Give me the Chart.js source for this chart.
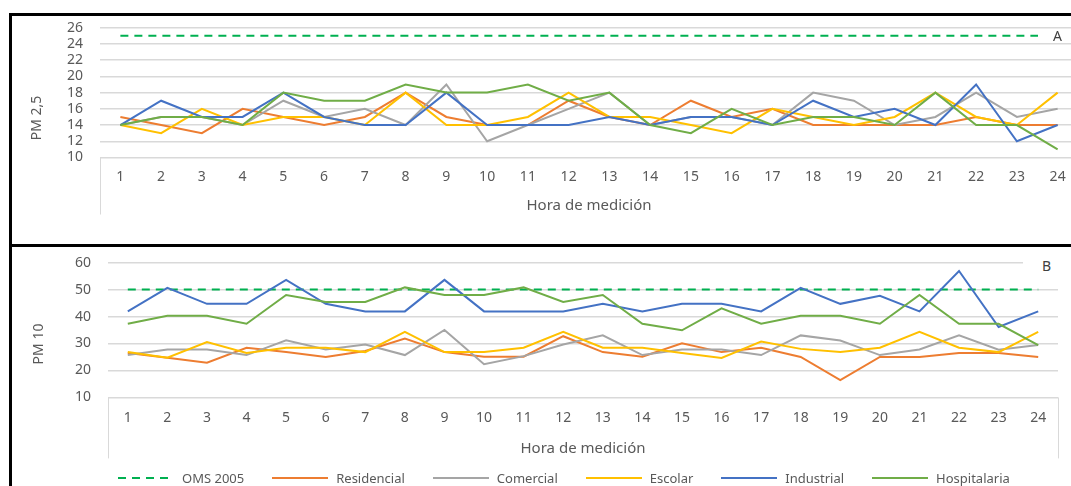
<!DOCTYPE html>
<html lang="es">
<head>
<meta charset="utf-8">
<title>PM 2,5 y PM 10 por hora de medición</title>
<script src="https://cdn.jsdelivr.net/npm/chart.js@4.4.1/dist/chart.umd.min.js"></script>
<style>
html, body { margin: 0; padding: 0; background: #fff; overflow: hidden; }
body { width: 1071px; height: 486px; position: relative; font-family: "Noto Sans", sans-serif; }
canvas { position: absolute; left: 0; }
#c25 { top: 0; }
#c10 { top: 237px; }
.frame { position: absolute; left: 9px; width: 1100px; border-top: 3px solid #000; border-left: 3px solid #000; }
#frameA { top: 13px; height: 230px; }
#frameB { top: 244px; height: 300px; }
.ytitle { position: absolute; transform: translate(-50%, -50%) rotate(-90deg); font-size: 14px; color: #595959; white-space: nowrap; }
.tag { position: absolute; background: #fff; font-size: 14px; color: #404040; }
#legend { position: absolute; left: 118px; top: 470px; height: 16px; display: flex; align-items: center; gap: 28px; font-size: 13px; color: #595959; white-space: nowrap; }
#legend .item { display: flex; align-items: center; }
#legend svg { margin-right: 8px; }
</style>
</head>
<body>

<canvas id="c25" width="1100" height="243"></canvas>
<canvas id="c10" width="1100" height="249"></canvas>

<div class="frame" id="frameA"></div>
<div class="frame" id="frameB"></div>

<div class="ytitle" style="left:35px; top:118px;">PM 2,5</div>
<div class="ytitle" style="left:37px; top:344px;">PM 10</div>

<div class="tag" style="left:1038px; top:29px; width:40px; height:13px; line-height:13px; padding-left:15px;">A</div>
<div class="tag" style="left:1023px; top:256px; width:40px; height:20px; line-height:20px; padding-left:19px;">B</div>

<div id="legend"></div>

<script>
// ============================
// DATOS
// ============================

const horas = ['1','2','3','4','5','6','7','8','9','10','11','12',
               '13','14','15','16','17','18','19','20','21','22','23','24'];

const nombres = ['OMS 2005', 'Residencial', 'Comercial', 'Escolar', 'Industrial', 'Hospitalaria'];

// PM 2,5
const oms25 = [25,25,25,25,25,25,25,25,25,25,25,25,25,25,25,25,25,25,25,25,25,25,25,25];
const res25 = [15,14,13,16,15,14,15,18,15,14,14,17,15,14,17,15,16,14,14,14,14,15,14,14];
const com25 = [14,15,15,14,17,15,16,14,19,12,14,16,18,14,15,15,14,18,17,14,15,18,15,16];
const esc25 = [14,13,16,14,15,15,14,18,14,14,15,18,15,15,14,13,16,15,14,15,18,15,14,18];
const ind25 = [14,17,15,15,18,15,14,14,18,14,14,14,15,14,15,15,14,17,15,16,14,19,12,14];
const hos25 = [14,15,15,14,18,17,17,19,18,18,19,17,18,14,13,16,14,15,15,14,18,14,14,11];

// PM 10
const oms10 = [50,50,50,50,50,50,50,50,50,50,50,50,50,50,50,50,50,50,50,50,50,50,50,50];
const res10 = [26.5,24.7,22.9,28.4,26.8,25.0,27.2,31.8,26.8,25.1,25.1,32.7,
               26.8,25.1,30.1,26.8,28.4,25.0,16.4,25.0,25.0,26.5,26.5,25.0];
const com10 = [25.7,27.8,27.8,25.7,31.2,27.8,29.6,25.7,35.0,22.3,25.3,29.6,
               33.0,25.7,27.8,27.8,25.7,33.0,31.1,25.7,27.8,33.0,27.7,29.4];
const esc10 = [26.8,24.7,30.5,26.5,28.4,28.4,26.8,34.3,26.8,26.8,28.4,34.3,
               28.4,28.4,26.5,24.6,30.7,28.0,26.8,28.4,34.3,28.4,26.8,34.3];
const ind10 = [41.9,50.6,44.7,44.7,53.6,44.7,41.9,41.9,53.6,41.9,41.9,41.9,
               44.7,41.9,44.7,44.7,41.9,50.6,44.7,47.7,41.9,56.9,36.1,41.9];
const hos10 = [37.3,40.3,40.3,37.3,48.0,45.4,45.4,50.8,48.0,48.0,50.8,45.4,
               48.0,37.3,34.9,43.0,37.3,40.3,40.3,37.3,48.0,37.3,37.3,29.4];

// ============================
// ESTILO
// ============================

const colores = ['#00B050', '#ED7D31', '#A5A5A5', '#FFC000', '#4472C4', '#70AD47'];
const trazos  = [[8, 6], [], [], [], [], []];
const gris = '#595959';

Chart.defaults.font.family = '"Noto Sans", sans-serif';

// lineas verticales en los bordes del eje de categorias
const edgeLines = {
    id: 'edgeLines',
    afterDraw(chart, args, opts) {
        const {ctx, chartArea} = chart;
        ctx.save();
        ctx.strokeStyle = opts.color;
        ctx.lineWidth = 1;
        [chartArea.left, chartArea.right].forEach(x => {
            const px = Math.round(x) + 0.5;
            ctx.beginPath();
            ctx.moveTo(px, chartArea.bottom);
            ctx.lineTo(px, chartArea.bottom + opts.length);
            ctx.stroke();
        });
        ctx.restore();
    }
};

function series(datos) {
    return datos.map((d, i) => ({
        label: nombres[i],
        data: d,
        borderColor: colores[i],
        backgroundColor: colores[i],
        borderWidth: 2,
        borderDash: trazos[i],
        pointRadius: 0,
        tension: 0,
        fill: false,
        order: nombres.length - i
    }));
}

function panel(id, datos, yMin, yMax, yStep, box) {
    return new Chart(document.getElementById(id), {
        type: 'line',
        data: { labels: horas, datasets: series(datos) },
        options: {
            responsive: false,
            animation: false,
            layout: { padding: { top: box.top, right: box.right, left: 0, bottom: 0 } },
            plugins: {
                legend: { display: false },
                tooltip: { enabled: false },
                edgeLines: { length: box.edge, color: '#d9d9d9' }
            },
            scales: {
                x: {
                    offset: true,
                    grid: { display: false, drawTicks: false },
                    border: { display: false },
                    ticks: { color: gris, font: { size: 14 }, padding: box.tickPad, maxRotation: 0, autoSkip: false },
                    title: { display: true, text: 'Hora de medición', color: gris, font: { size: 15 },
                             padding: { top: 0, bottom: box.titlePad } },
                    afterFit: s => { s.height = box.xHeight; }
                },
                y: {
                    min: yMin,
                    max: yMax,
                    ticks: { stepSize: yStep, autoSkip: false, color: gris, font: { size: 14 }, padding: 17 },
                    grid: { color: '#d9d9d9', lineWidth: 1.5, drawTicks: false },
                    border: { display: false },
                    afterFit: s => { s.width = box.yWidth; }
                }
            }
        },
        plugins: [edgeLines]
    });
}

// ============================
// GRAFICOS
// ============================

panel('c25', [oms25, res25, com25, esc25, ind25, hos25], 10, 26, 2,
      { top: 27.7, right: 22, yWidth: 100, xHeight: 85.5, tickPad: 11, titlePad: 28.6, edge: 57 });

panel('c10', [oms10, res10, com10, esc10, ind10, hos10], 10, 60, 10,
      { top: 25.6, right: 42, yWidth: 108, xHeight: 88.6, tickPad: 12, titlePad: 28.6, edge: 61 });

// ============================
// LEYENDA
// ============================

document.getElementById('legend').innerHTML = nombres.map((n, i) => `
<div class="item">
  <svg width="56" height="4"><line x1="0" y1="2" x2="56" y2="2" stroke="${colores[i]}" stroke-width="2"
       stroke-dasharray="${trazos[i].join(' ')}"/></svg>
  <span>${n}</span>
</div>`).join('');
</script>
</body>
</html>
